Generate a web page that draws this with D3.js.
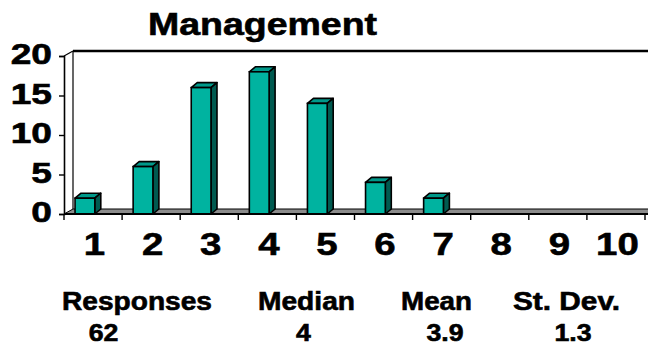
<!DOCTYPE html>
<html>
<head>
<meta charset="utf-8">
<script src="https://cdn.jsdelivr.net/npm/d3@7"></script>
<style>
  html, body { margin: 0; padding: 0; background: #fff; }
  svg { display: block; }
  text { font-family: Arial, "Liberation Sans", sans-serif; font-weight: bold; fill: #000; stroke: #000; stroke-width: 0.6px; }
</style>
</head>
<body>
<svg id="chart" width="648" height="346"></svg>
<script>
// Rating distribution for "Management"
const categories = ["1", "2", "3", "4", "5", "6", "7", "8", "9", "10"];
const counts = [2, 6, 16, 18, 14, 4, 2, 0, 0, 0];
const yTicks = [0, 5, 10, 15, 20];
const statLabels = ["Responses", "Median", "Mean", "St. Dev."];
const statValues = ["62", "4", "3.9", "1.3"];

const svg = d3.select("#chart");
const W = 648, H = 346;

const plot = { left: 64, right: 645, top: 56, bottom: 214 };
const wallDepth = { dx: 9, dy: -5 };
const barDepth = { dx: 6, dy: -5 };

const x = d3.scaleBand().domain(categories).range([plot.left, plot.right]).padding(0);
const y = d3.scaleLinear().domain([0, 20]).range([plot.bottom, plot.top]);

const FRONT = "#00B3A0", TOP = "#00998A", SIDE = "#005A50";

// Title
svg.append("text")
  .attr("x", 148).attr("y", 35)
  .attr("font-size", 31)
  .attr("textLength", 229).attr("lengthAdjust", "spacingAndGlyphs")
  .text("Management");

// Back wall outline (top edge runs off to the right)
const g = svg.append("g");
g.append("line")
  .attr("x1", plot.left + wallDepth.dx).attr("y1", y(20) + wallDepth.dy)
  .attr("x2", W).attr("y2", y(20) + wallDepth.dy)
  .attr("stroke", "#000").attr("stroke-width", 2.6);
g.append("line")
  .attr("x1", plot.left + wallDepth.dx).attr("y1", y(20) + wallDepth.dy)
  .attr("x2", plot.left + wallDepth.dx).attr("y2", y(0) + wallDepth.dy)
  .attr("stroke", "#000").attr("stroke-width", 1.2);
g.append("line")
  .attr("x1", plot.left).attr("y1", y(20))
  .attr("x2", plot.left + wallDepth.dx).attr("y2", y(20) + wallDepth.dy)
  .attr("stroke", "#000").attr("stroke-width", 1.2);

// Floor
const floorPts = [
  [plot.left, y(0)],
  [plot.left + wallDepth.dx, y(0) + wallDepth.dy],
  [W + 10, y(0) + wallDepth.dy],
  [W + 10, y(0)]
];
g.append("polygon")
  .attr("points", floorPts.map(p => p.join(",")).join(" "))
  .attr("fill", "#8c8c8c").attr("stroke", "#000").attr("stroke-width", 1);

// Bars (front, top, side faces)
const bw = x.bandwidth() * 0.34;
const bo = x.bandwidth() * 0.19;
const bars = g.selectAll("g.bar").data(categories.map((c, i) => ({ c, v: counts[i] })).filter(d => d.v > 0))
  .join("g").attr("class", "bar");

bars.append("polygon")
  .attr("points", d => {
    const x0 = x(d.c) + bo, x1 = x0 + bw, yt = y(d.v);
    return [[x0, yt], [x0 + barDepth.dx, yt + barDepth.dy], [x1 + barDepth.dx, yt + barDepth.dy], [x1, yt]].map(p => p.join(",")).join(" ");
  })
  .attr("fill", TOP).attr("stroke", "#000").attr("stroke-width", 1.6).attr("stroke-linejoin", "round");
bars.append("polygon")
  .attr("points", d => {
    const x1 = x(d.c) + bo + bw, yt = y(d.v), yb = y(0);
    return [[x1, yt], [x1 + barDepth.dx, yt + barDepth.dy], [x1 + barDepth.dx, yb + barDepth.dy], [x1, yb]].map(p => p.join(",")).join(" ");
  })
  .attr("fill", SIDE).attr("stroke", "#000").attr("stroke-width", 1.6).attr("stroke-linejoin", "round");
bars.append("rect")
  .attr("x", d => x(d.c) + bo).attr("y", d => y(d.v))
  .attr("width", bw).attr("height", d => y(0) - y(d.v))
  .attr("fill", FRONT).attr("stroke", "#000").attr("stroke-width", 1.6);

// Y axis
const yAxis = svg.append("g").attr("transform", `translate(${plot.left},0)`)
  .call(d3.axisLeft(y).tickValues(yTicks).tickSize(5).tickFormat(""));
yAxis.select(".domain").attr("stroke", "#000").attr("stroke-width", 1.6);
yAxis.selectAll(".tick line").attr("stroke", "#000").attr("stroke-width", 1.4);

svg.append("g").selectAll("text").data(yTicks).join("text")
  .attr("transform", d => `translate(52,${y(d) + 8}) scale(1.28,1)`)
  .attr("text-anchor", "end")
  .attr("font-size", 29)
  .text(d => d);

// X axis
const bounds = categories.map(c => x(c)).concat([x(categories[categories.length - 1]) + x.bandwidth()]);
const xAxis = svg.append("g");
xAxis.append("line")
  .attr("x1", plot.left).attr("x2", W)
  .attr("y1", y(0)).attr("y2", y(0))
  .attr("stroke", "#000").attr("stroke-width", 1.8);
xAxis.selectAll("line.tick").data(bounds).join("line").attr("class", "tick")
  .attr("x1", d => d).attr("x2", d => d)
  .attr("y1", y(0)).attr("y2", y(0) + 6)
  .attr("stroke", "#000").attr("stroke-width", 1.4);

svg.append("g").selectAll("text").data(categories).join("text")
  .attr("transform", d => `translate(${x(d) + x.bandwidth() / 2 + 1.5},255) scale(1.2,1)`)
  .attr("text-anchor", "middle")
  .attr("font-size", 32)
  .text(d => d);

// Summary statistics
const labelBoxes = [[62, 150], [258, 97], [401, 71], [513, 107]];
const valueCenters = [103.5, 303.5, 445, 573];

svg.append("g").selectAll("text").data(statLabels).join("text")
  .attr("x", (d, i) => labelBoxes[i][0]).attr("y", 310)
  .attr("font-size", 25)
  .attr("textLength", (d, i) => labelBoxes[i][1]).attr("lengthAdjust", "spacingAndGlyphs")
  .text(d => d);

svg.append("g").selectAll("text").data(statValues).join("text")
  .attr("transform", (d, i) => `translate(${valueCenters[i]},341) scale(1.16,1.06)`)
  .attr("text-anchor", "middle")
  .attr("font-size", 23)
  .text(d => d);
</script>
</body>
</html>
